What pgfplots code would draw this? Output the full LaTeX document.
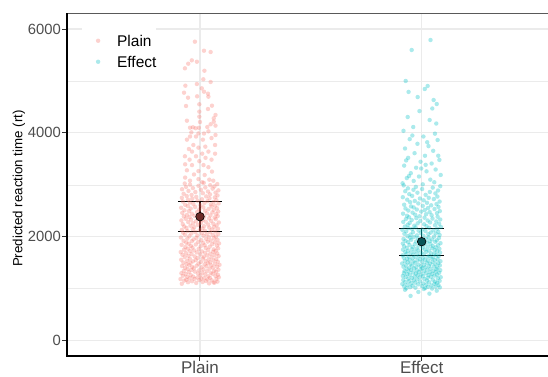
\documentclass[border=0pt]{standalone}
\usepackage{fontspec}
\setmainfont{Liberation Sans}
\usepackage{pgfplots}
\usepackage{pgfplotstable}
\pgfplotsset{compat=1.18}
\definecolor{plaincol}{HTML}{F8766D}
\definecolor{effectcol}{HTML}{00BFC4}
\definecolor{plainmean}{HTML}{6E2B28}
\definecolor{effectmean}{HTML}{0A5457}
\definecolor{gridcol}{HTML}{EBEBEB}
\definecolor{ticktext}{HTML}{4D4D4D}
\definecolor{tickcol}{HTML}{333333}

\pgfplotstableread{
x y
0.918 1096
1.041 1103
0.983 1112
1.066 1118
0.946 1125
1.012 1131
1.079 1138
0.964 1144
1.027 1150
0.929 1157
1.053 1163
0.997 1168
0.938 1174
1.034 1179
1.074 1185
0.975 1190
1.006 1195
0.953 1199
1.061 1121
0.912 1186
1.019 1204
1.045 1210
0.988 1216
1.085 1221
0.942 1228
0.969 1233
1.038 1239
1.070 1244
0.923 1250
1.002 1257
0.958 1263
1.081 1268
1.024 1274
0.935 1281
1.057 1287
0.991 1293
0.916 1299
1.049 1305
1.011 1311
0.949 1318
1.072 1324
0.977 1330
1.031 1336
0.927 1342
1.064 1348
0.996 1354
0.961 1360
1.083 1367
1.015 1373
0.944 1379
1.043 1386
0.972 1393
0.933 1402
1.058 1408
1.007 1413
0.965 1420
1.077 1425
1.029 1431
0.919 1437
0.985 1443
1.051 1449
0.951 1455
1.088 1461
1.021 1467
0.939 1472
1.068 1478
0.993 1484
1.036 1490
0.957 1497
0.925 1503
1.046 1509
1.004 1515
1.080 1521
0.968 1527
1.025 1533
0.942 1539
1.061 1545
0.981 1551
0.915 1558
1.039 1564
1.073 1570
0.954 1577
1.013 1584
0.989 1592
1.052 1603
0.931 1609
1.017 1616
0.976 1622
1.084 1628
0.948 1635
1.033 1641
1.065 1647
0.921 1654
1.001 1660
0.962 1667
1.047 1673
1.078 1680
0.937 1686
1.023 1693
0.986 1699
0.913 1706
1.059 1712
1.009 1719
0.955 1725
1.071 1732
0.973 1738
1.037 1745
0.928 1751
1.062 1758
0.994 1764
0.945 1771
1.082 1778
1.026 1785
0.966 1793
0.934 1803
1.044 1810
1.003 1817
0.959 1824
1.076 1831
1.021 1838
0.917 1845
0.981 1852
1.055 1859
0.949 1866
1.086 1873
1.014 1880
0.938 1887
1.067 1894
0.992 1901
1.035 1908
0.963 1915
0.926 1922
1.048 1929
1.006 1936
1.079 1943
0.971 1950
1.028 1957
0.943 1964
1.063 1971
0.984 1978
0.914 1986
1.040 1994
1.072 2004
0.952 2011
1.016 2019
0.988 2026
1.058 2034
0.932 2041
1.030 2049
1.083 2056
0.961 2064
1.008 2071
0.924 2079
1.046 2086
0.979 2094
1.069 2101
0.944 2109
1.022 2116
0.998 2124
0.918 2131
1.054 2139
0.967 2146
1.081 2154
1.011 2161
0.939 2169
1.042 2176
0.974 2184
1.064 2191
0.929 2198
1.018 2205
0.957 2213
1.075 2221
0.990 2229
1.037 2236
0.922 2244
1.060 2252
0.969 2260
1.004 2268
1.085 2275
0.947 2283
1.026 2291
0.982 2299
1.050 2307
0.916 2315
1.012 2322
0.960 2330
1.071 2338
0.936 2346
1.041 2354
0.995 2362
1.066 2370
0.953 2378
1.019 2386
0.927 2393
1.080 2399
0.975 2404
1.047 2412
0.941 2420
1.010 2429
1.073 2437
0.963 2445
1.031 2453
0.920 2461
1.056 2469
0.987 2477
1.082 2486
0.950 2494
1.023 2502
0.930 2510
1.062 2518
0.997 2527
1.039 2535
0.958 2543
1.077 2551
0.915 2559
1.015 2567
0.978 2575
1.052 2584
0.945 2592
1.068 2598
1.002 2606
0.933 2615
1.049 2624
0.970 2633
1.084 2642
1.020 2651
0.954 2660
1.061 2669
0.923 2678
1.034 2687
0.989 2696
1.074 2705
0.946 2714
1.009 2723
0.965 2732
1.043 2741
0.918 2750
1.067 2759
0.983 2768
1.028 2777
0.940 2786
1.079 2795
0.962 2806
1.045 2817
0.926 2828
1.013 2839
1.070 2850
0.979 2861
1.036 2872
0.948 2883
1.083 2894
1.004 2905
0.919 2916
1.057 2927
0.968 2938
1.024 2949
0.937 2960
1.065 2971
0.993 2982
1.046 2993
0.955 3004
1.078 3015
0.931 3026
1.017 3038
0.977 5756
1.018 5582
1.048 5557
0.963 5397
0.947 5332
0.986 5370
0.932 5243
1.020 5197
1.015 5032
1.048 4980
0.986 4941
0.934 4909
1.008 4858
0.928 4774
1.018 4793
1.036 4755
0.946 4678
1.038 4697
0.987 4704
0.997 4551
1.054 4524
0.937 4518
1.036 4460
0.997 4409
1.070 4345
1.062 4281
0.997 4312
0.941 4235
1.062 4216
1.000 4210
1.048 4166
0.968 4108
0.955 4100
0.980 4090
0.995 4098
1.033 4113
1.070 4140
1.070 3960
0.961 4011
0.993 3990
1.018 3988
1.038 4030
0.955 3930
0.982 3930
1.013 3870
1.052 3900
0.941 3870
1.068 3767
0.970 3767
0.993 3716
1.024 3735
0.950 3690
0.964 3640
1.038 3640
1.010 3600
1.068 3600
0.932 3550
0.982 3550
1.025 3520
0.953 3485
1.052 3485
0.997 3455
0.933 3395
1.016 3380
0.964 3380
1.038 3340
0.941 3280
0.993 3265
1.054 3255
0.973 3200
1.021 3190
0.933 3140
0.993 3110
1.042 3100
0.955 3080
1.060 3080
1.010 3050
}\plaintable

\pgfplotstableread{
x y
2.040 5788
1.955 5596
1.928 5000
2.027 4903
2.014 4845
1.941 4789
2.054 4633
2.068 4556
1.990 4420
1.937 4306
2.036 4248
1.962 4113
1.918 4040
2.060 3985
2.008 3930
1.946 3880
2.072 3863
1.981 3790
2.031 3745
1.925 3700
2.052 3655
1.968 3610
2.015 3560
1.939 3520
2.080 3480
1.995 3445
2.045 3410
1.921 3370
1.975 3330
2.063 3295
2.022 3260
1.951 3225
2.086 3190
1.988 3160
1.933 3130
2.039 3100
1.964 3075
2.057 3050
1.914 3030
2.005 3010
2.048 4470
1.958 3950
2.018 3385
1.943 3170
2.075 3560
1.982 4690
2.025 3820
1.930 3470
2.066 4180
1.998 3315
1.950 862
2.035 905
1.985 938
2.068 962
1.925 980
2.010 995
2.047 1003
1.931 1008
2.016 1014
1.972 1019
2.082 1025
1.948 1030
2.029 1036
2.063 1041
1.921 1047
2.001 1052
1.959 1058
2.044 1063
2.076 1069
1.936 1074
2.021 1080
1.984 1085
1.913 1091
2.057 1096
2.008 1102
1.953 1107
2.070 1113
1.971 1118
2.034 1124
1.926 1129
2.061 1135
1.993 1140
1.943 1146
2.081 1151
2.024 1157
1.964 1162
1.917 1168
2.050 1174
1.979 1180
2.012 1187
1.940 1194
2.073 1202
1.956 1207
2.027 1212
1.991 1217
2.086 1222
1.928 1227
2.042 1232
1.968 1237
2.006 1242
1.915 1247
2.058 1252
1.982 1257
2.031 1262
1.947 1267
2.069 1272
1.999 1277
1.935 1282
2.048 1287
1.974 1292
2.019 1297
1.920 1302
2.079 1307
1.961 1312
2.037 1317
1.988 1322
2.064 1327
1.941 1332
2.010 1337
1.923 1342
2.053 1347
1.978 1352
2.084 1357
1.952 1362
2.025 1367
1.995 1372
2.067 1377
1.932 1382
2.040 1387
1.966 1392
2.003 1397
1.944 1402
2.071 1407
2.017 1412
1.976 1418
1.918 1423
2.055 1428
1.997 1433
2.033 1439
1.957 1444
2.082 1449
1.929 1454
2.011 1460
1.986 1465
2.062 1470
1.949 1476
2.039 1481
1.912 1486
2.075 1492
1.970 1497
2.023 1502
1.937 1508
2.049 1513
2.002 1518
1.963 1524
2.085 1529
1.924 1534
2.029 1540
1.981 1545
2.060 1550
1.946 1556
2.014 1561
1.992 1566
2.072 1572
1.934 1577
2.044 1582
1.959 1588
2.006 1593
1.919 1598
2.052 1603
1.973 1609
2.026 1614
1.942 1620
2.077 1626
1.989 1631
2.035 1637
1.914 1643
2.066 1648
1.962 1654
2.009 1660
1.931 1665
2.057 1671
1.980 1677
2.043 1682
1.950 1688
2.083 1694
1.999 1699
1.926 1705
2.021 1711
1.967 1717
2.070 1722
1.938 1728
2.032 1734
1.985 1740
2.059 1745
1.916 1751
2.015 1757
1.955 1763
2.080 1768
1.977 1774
2.046 1780
1.933 1786
2.004 1792
2.064 1797
1.960 1803
2.028 1810
1.921 1817
2.050 1823
1.987 1830
2.074 1837
1.945 1843
2.012 1850
1.969 1857
2.040 1863
1.915 1870
2.085 1877
1.993 1883
2.023 1890
1.939 1897
2.061 1903
1.975 1910
2.036 1917
1.927 1923
2.068 1930
2.001 1937
1.953 1943
2.047 1950
1.918 1957
2.019 1963
1.983 1970
2.078 1977
1.948 1983
2.031 1990
1.965 1997
2.056 2004
1.936 2012
2.008 2019
1.979 2027
2.081 2035
1.950 2042
2.030 2050
1.922 2058
2.063 2065
1.996 2073
2.041 2081
1.961 2088
2.075 2096
1.930 2104
2.017 2111
1.986 2119
2.053 2127
1.913 2134
2.003 2142
1.957 2150
2.070 2157
1.941 2165
2.034 2173
1.973 2180
2.087 2188
1.924 2196
2.022 2205
1.967 2214
2.060 2223
1.937 2232
2.011 2241
2.079 2250
1.982 2259
1.946 2268
2.038 2277
1.917 2286
2.066 2295
1.994 2305
2.027 2314
1.955 2323
2.084 2332
1.929 2341
2.049 2350
1.976 2359
2.013 2368
1.943 2377
2.072 2386
1.990 2395
1.934 2405
2.045 2415
1.971 2425
2.020 2435
1.916 2445
2.069 2455
1.959 2465
2.036 2475
1.998 2485
2.082 2495
1.940 2505
2.014 2515
1.978 2525
2.058 2535
1.927 2545
2.029 2555
1.964 2565
2.076 2575
1.952 2585
2.005 2595
2.043 2606
1.921 2618
2.067 2630
1.985 2642
2.024 2654
1.948 2666
2.081 2678
1.969 2690
2.009 2702
1.935 2714
2.055 2726
1.992 2738
2.032 2750
1.915 2762
2.071 2774
1.957 2787
2.018 2807
1.944 2821
2.062 2835
1.981 2849
2.037 2863
1.926 2877
2.074 2891
1.963 2905
2.002 2919
1.938 2933
2.050 2947
1.974 2961
2.084 2975
1.919 2989
}\effecttable

\begin{document}
\begin{tikzpicture}
\useasboundingbox (0,0) rectangle (548pt,376pt);
\begin{axis}[
  at={(67pt,20pt)}, anchor=south west,
  scale only axis, width=481pt, height=343pt,
  xmin=0.4, xmax=2.57, ymin=-295, ymax=6308,
  xtick={1,2}, xticklabels={Plain,Effect},
  ytick={0,2000,4000,6000},
  minor ytick={1000,3000,5000},
  /pgf/number format/assume math mode=true,
  /pgf/number format/1000 sep={},
  axis line style={draw=none},
  tick pos=left, tick align=outside,
  major tick length=4.5pt, minor tick length=0pt,
  every tick/.style={draw=tickcol, line width=1pt},
  grid=both,
  major grid style={draw=gridcol, line width=1.1pt},
  minor grid style={draw=gridcol, line width=0.55pt},
  yticklabel style={font=\fontsize{14.8}{16}\selectfont, text=ticktext, inner sep=0pt, anchor=east, xshift=-1.5pt},
  xticklabel style={font=\fontsize{17}{19}\selectfont, text=ticktext, inner sep=0pt, text depth=0pt, anchor=north, yshift=0pt},
  ylabel={Predicted reaction time (rt)},
  every axis y label/.style={at={(axis description cs:-0.0998,0.488)}, rotate=90, anchor=center, font=\fontsize{13.3}{15}\selectfont},
  legend style={at={(axis description cs:0.031,0.962)}, anchor=north west, draw=none, fill=white,
    inner xsep=0pt, inner ysep=9pt, font=\fontsize{15.5}{18}\selectfont, row sep=9.9pt,
    nodes={inner sep=0pt, text height=11.1pt, text depth=0pt}},
  legend cell align=left,
  legend image code/.code={\path[draw=none, fill=none] (0pt,-3pt) rectangle (35pt,3pt); \draw[#1] plot coordinates {(16pt,0pt)};},
  clip=false,
  extra description/.code={
    \draw[draw=black!65, line width=1pt] (rel axis cs:0,1) -- (rel axis cs:1,1);
    \draw[draw=black, line width=1.1pt] (rel axis cs:0,1) -- (rel axis cs:0,0) -- (rel axis cs:1,0);
  },
]
\addplot[only marks, mark=*, color=plaincol, mark size=2.2pt, mark options={draw opacity=0, fill=plaincol, fill opacity=0.33}] table[x=x,y=y] {\plaintable};
\addlegendentry{Plain}
\addplot[only marks, mark=*, color=effectcol, mark size=2.2pt, mark options={draw opacity=0, fill=effectcol, fill opacity=0.33}] table[x=x,y=y] {\effecttable};
\addlegendentry{Effect}
% error bars: vertical lines
\addplot[forget plot, draw=plainmean!60!black, line width=1.1pt] coordinates {(1,2106) (1,2676)};
\addplot[forget plot, draw=effectmean!60!black, line width=1.1pt] coordinates {(2,1643) (2,2156)};
% caps
\addplot[forget plot, draw=black, line width=1.1pt] coordinates {(0.9,2676) (1.1,2676)};
\addplot[forget plot, draw=black, line width=1.1pt] coordinates {(0.9,2106) (1.1,2106)};
\addplot[forget plot, draw=black, line width=1.1pt] coordinates {(1.9,2156) (2.1,2156)};
\addplot[forget plot, draw=black, line width=1.1pt] coordinates {(1.9,1643) (2.1,1643)};
% means
\addplot[forget plot, only marks, mark=*, mark size=4.3pt, mark options={draw=black, fill=plainmean, line width=0.6pt}] coordinates {(1,2387)};
\addplot[forget plot, only marks, mark=*, mark size=4.3pt, mark options={draw=black, fill=effectmean, line width=0.6pt}] coordinates {(2,1906)};
\end{axis}
\end{tikzpicture}
\end{document}
